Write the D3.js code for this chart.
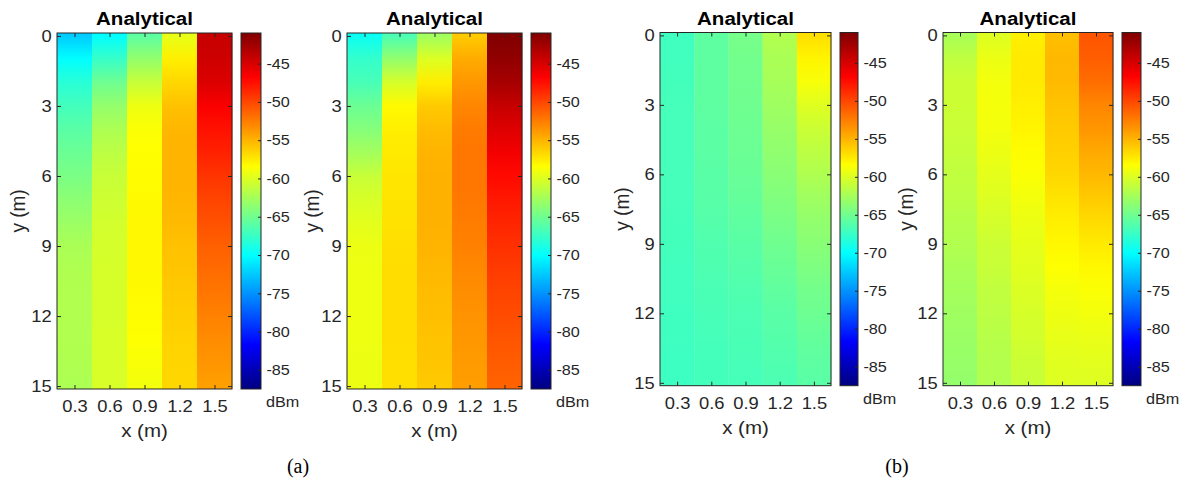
<!DOCTYPE html>
<html><head><meta charset="utf-8">
<script src="https://cdn.jsdelivr.net/npm/d3@7"></script>
<style>body{margin:0;background:#fff}svg{display:block}</style>
</head><body><svg id="c" width="1182" height="481"></svg>
<script>
// ---- data ----
const xCols = [0.3, 0.6, 0.9, 1.2, 1.5];
const ySamples = [0,1,2,3,4,5,6,7,8,9,10,11,12,13,14,15];
const yTicks = [0, 3, 6, 9, 12, 15];
const cbTicks = [-45, -50, -55, -60, -65, -70, -75, -80, -85];
const cLim = [-87.5, -41];
const titles = ["Analytical", "Analytical", "Analytical", "Analytical"];
const subLabels = ["(a)", "(b)"];
// received power (dBm), one row per x column, values at ySamples
const powerA1 = [
  [-72.4,-70,-68.2,-67,-66,-65.2,-64.5,-63.7,-63,-62.3,-62.1,-62,-62,-62,-62.1,-62.2],
  [-70,-67.5,-65,-63.3,-62.2,-61.5,-61,-60.7,-60.5,-60.4,-60.3,-60.3,-60.3,-60.2,-60.2,-60.2],
  [-65.8,-63.3,-61,-59.2,-58.6,-58.4,-58.3,-58.2,-58.1,-58.1,-58.1,-58.2,-58.3,-58.5,-58.7,-59],
  [-59.5,-57.7,-56.6,-55.6,-55.1,-55,-55,-55.1,-55.3,-55.6,-55.8,-56,-56.2,-56.4,-56.5,-56.6],
  [-44.2,-44.6,-45.2,-46.6,-47.6,-48.3,-49.2,-49.9,-50.5,-51.2,-51.7,-52.2,-52.7,-53.2,-53.6,-54.1]
];
const powerA2 = [
  [-69.5,-67.7,-66.8,-65.2,-64,-62.6,-61,-60.2,-59.7,-59.3,-59.2,-59.2,-59.2,-59.2,-59.3,-59.3],
  [-66.6,-63.3,-60.3,-58.2,-57.7,-57.5,-57.3,-57.2,-57.1,-57,-56.9,-56.9,-56.9,-56.9,-57,-57],
  [-62.7,-60,-57.6,-56,-55.4,-55,-54.9,-54.9,-54.9,-55,-55.2,-55.4,-55.5,-55.7,-55.8,-56],
  [-56,-54.6,-53.7,-52.9,-52.4,-52.2,-52.2,-52.3,-52.5,-52.7,-53,-53.3,-53.5,-53.7,-53.9,-54],
  [-41.1,-41.8,-42.8,-44.2,-45.3,-46.3,-47.2,-47.9,-48.5,-49,-49.5,-49.9,-50.3,-50.7,-51,-51.3]
];
const powerB1 = [
  [-67.2,-67.1,-67,-66.9,-66.9,-66.9,-66.9,-66.9,-67,-67,-67.1,-67.1,-67.2,-67.2,-67.3,-67.3],
  [-65.8,-65.8,-65.8,-65.8,-65.9,-65.9,-66,-66.1,-66.2,-66.4,-66.5,-66.7,-66.8,-66.9,-67,-67],
  [-64.7,-64.8,-64.9,-65,-65.1,-65.2,-65.3,-65.5,-65.8,-66,-66.2,-66.4,-66.6,-66.7,-66.8,-66.9],
  [-62,-62.3,-62.5,-62.8,-63.2,-63.5,-63.8,-64.2,-64.6,-65,-65.3,-65.7,-66,-66.2,-66.4,-66.6],
  [-57,-58,-58.8,-59.9,-60.8,-61.5,-62.1,-62.8,-63.4,-63.8,-64.3,-64.8,-65.1,-65.5,-65.8,-66]
];
const powerB2 = [
  [-62.4,-61.3,-60.8,-60.8,-60.9,-61.1,-61.3,-61.5,-61.8,-62,-62.3,-62.6,-62.8,-63,-63.2,-63.3],
  [-60,-59.3,-59,-58.9,-59,-59.3,-59.6,-60,-60.4,-60.8,-61,-61.3,-61.5,-61.7,-61.9,-62],
  [-57.7,-57.5,-57.5,-57.7,-58,-58.3,-58.6,-59,-59.3,-59.6,-59.8,-60.1,-60.3,-60.5,-60.8,-61],
  [-55.5,-55.2,-55.3,-55.7,-56,-56.3,-56.6,-57.2,-57.7,-58.1,-58.5,-58.9,-59.2,-59.5,-59.8,-60],
  [-50.7,-51.1,-51.8,-52.9,-53.6,-54.5,-55.2,-56,-56.8,-57.5,-58.1,-58.6,-59,-59.4,-59.7,-60]
];
const panelsData = [powerA1, powerA2, powerB1, powerB2];

// ---- layout ----
const layout = [
  {l:57,  r:232,  t:33,   b:389,   cl:241,  cr:261,  ylab:19},
  {l:347, r:522,  t:33,   b:389,   cl:531,  cr:551,  ylab:313},
  {l:660, r:831,  t:32.5, b:385.7, cl:840,  cr:858,  ylab:623},
  {l:943, r:1113, t:32.5, b:385.7, cl:1122, cr:1141, ylab:907}
];
const subPos = [{x:298, y:467}, {x:897, y:467}];

// jet colormap
function jet(t){
  t = Math.max(0, Math.min(1, t));
  const c = v => Math.round(255*Math.max(0, Math.min(1, v)));
  return d3.rgb(c(1.5-Math.abs(4*t-3)), c(1.5-Math.abs(4*t-2)), c(1.5-Math.abs(4*t-1))).formatHex();
}
const tScale = d3.scaleLinear().domain(cLim).range([0,1]).clamp(true);
const color = v => jet(tScale(v));

const svg = d3.select("#c");
const defs = svg.append("defs");
const FONT = "'Liberation Sans', Arial, sans-serif";
const TXT = "#262626";
const SX = "scale(1.08,1)";

panelsData.forEach((data, p) => {
  const L = layout[p];
  const x = d3.scaleLinear().domain([0.15, 1.65]).range([L.l, L.r]);
  const y = d3.scaleLinear().domain([-0.125, 15.125]).range([L.t, L.b]);
  const g = svg.append("g");

  data.forEach((col, ci) => {
    const id = `g${p}_${ci}`;
    const lg = defs.append("linearGradient").attr("id", id)
      .attr("gradientUnits", "userSpaceOnUse")
      .attr("x1", 0).attr("x2", 0)
      .attr("y1", y(ySamples[0])).attr("y2", y(ySamples[ySamples.length-1]));
    col.forEach((v, k) => {
      lg.append("stop")
        .attr("offset", (ySamples[k]-ySamples[0])/(ySamples[ySamples.length-1]-ySamples[0]))
        .attr("stop-color", color(v));
    });
    const xc = xCols[ci];
    g.append("rect")
      .attr("x", x(xc-0.15)).attr("y", y(-0.125))
      .attr("width", x(xc+0.15)-x(xc-0.15)+0.3)
      .attr("height", y(15.125)-y(-0.125))
      .attr("fill", `url(#${id})`);
  });

  const axL = g.append("g").attr("transform", `translate(${L.l},0)`)
    .call(d3.axisLeft(y).tickValues(yTicks).tickSize(-4).tickSizeOuter(0).tickPadding(5));
  const axR = g.append("g").attr("transform", `translate(${L.r},0)`)
    .call(d3.axisRight(y).tickValues(yTicks).tickSize(-4).tickSizeOuter(0).tickFormat(""));
  const axB = g.append("g").attr("transform", `translate(0,${L.b})`)
    .call(d3.axisBottom(x).tickValues(xCols).tickSize(-4).tickSizeOuter(0).tickPadding(11).tickFormat(d3.format(".1f")));
  const axT = g.append("g").attr("transform", `translate(0,${L.t})`)
    .call(d3.axisTop(x).tickValues(xCols).tickSize(-4).tickSizeOuter(0).tickFormat(""));
  [axL, axR, axB, axT].forEach(a => {
    a.select(".domain").remove();
    a.selectAll("line").attr("stroke", TXT);
    a.selectAll("text").attr("fill", TXT).style("font-family", FONT).style("font-size", "17px");
  });
  axL.selectAll("text").attr("transform", SX);
  axB.selectAll("text").attr("transform", SX);
  g.append("rect").attr("x", L.l).attr("y", L.t).attr("width", L.r-L.l).attr("height", L.b-L.t)
    .attr("fill", "none").attr("stroke", TXT).attr("stroke-width", 1);

  g.append("text").attr("transform", `translate(${(L.l+L.r)/2},${L.t-8}) ${SX}`)
    .attr("text-anchor", "middle").style("font-family", FONT).style("font-size", "19px")
    .style("font-weight", "bold").attr("fill", "#000").text(titles[p]);
  g.append("text").attr("transform", `translate(${(L.l+L.r)/2},${L.b+48}) ${SX}`)
    .attr("text-anchor", "middle").style("font-family", FONT).style("font-size", "19px")
    .attr("fill", TXT).text("x (m)");
  g.append("text").attr("transform", `translate(${L.ylab+6},${(L.t+L.b)/2}) rotate(-90) scale(1,1.08)`)
    .attr("text-anchor", "middle").style("font-family", FONT).style("font-size", "19px")
    .attr("fill", TXT).text("y (m)");

  const cy = d3.scaleLinear().domain(cLim).range([L.b, L.t]);
  const cid = `cb${p}`;
  const cg = defs.append("linearGradient").attr("id", cid)
    .attr("x1", 0).attr("x2", 0).attr("y1", 1).attr("y2", 0);
  d3.range(0, 65).forEach(i => {
    cg.append("stop").attr("offset", i/64).attr("stop-color", jet(i/64));
  });
  g.append("rect").attr("x", L.cl).attr("y", L.t).attr("width", L.cr-L.cl).attr("height", L.b-L.t)
    .attr("fill", `url(#${cid})`).attr("stroke", TXT).attr("stroke-width", 1);
  const axC = g.append("g").attr("transform", `translate(${L.cr},0)`)
    .call(d3.axisRight(cy).tickValues(cbTicks).tickSize(-3).tickSizeOuter(0).tickPadding(5));
  axC.select(".domain").remove();
  axC.selectAll("line").attr("stroke", TXT);
  axC.selectAll("text").attr("fill", TXT).style("font-family", FONT).style("font-size", "15px")
    .attr("transform", SX).text(d => d);
  g.append("text").attr("x", 0).attr("y", L.b+18)
    .style("font-family", FONT).style("font-size", "15px").attr("fill", TXT)
    .attr("transform", `translate(${L.cr+5},0) ${SX}`).text("dBm");
});

subLabels.forEach((s, i) => {
  svg.append("text").attr("x", subPos[i].x).attr("y", subPos[i].y + 6)
    .attr("text-anchor", "middle").style("font-family", "'Liberation Serif', 'Times New Roman', serif")
    .style("font-size", "20px").attr("fill", "#000").text(s);
});
</script></body></html>
